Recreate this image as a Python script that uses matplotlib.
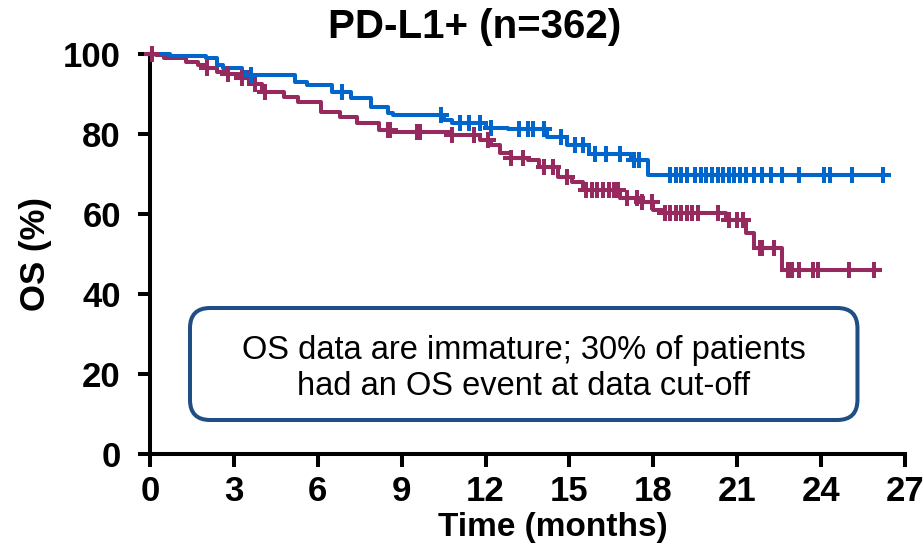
import numpy as np
import matplotlib
matplotlib.use("Agg")
import matplotlib.pyplot as plt
from matplotlib.patches import FancyBboxPatch

plt.rcParams['font.family'] = ['Liberation Sans', 'DejaVu Sans']

# ---- data ----
blue_times = [0, 0.72, 2.0, 2.4, 2.6, 3.3, 3.6, 5.2, 5.6, 6.5, 7.2, 7.9, 8.5, 8.7,
              10.5, 10.8, 12.0, 12.8, 14.2, 14.9, 15.7, 17.2, 17.8]
blue_surv = [100, 99.5, 98.9, 97.3, 96.4, 95.6, 94.8, 93.1, 92.3, 90.6, 88.9, 86.8, 85.2, 84.8,
             83.5, 82.7, 81.5, 81.2, 79.3, 77.3, 75.0, 73.6, 69.8]
blue_end = 26.2
blue_censor = [3.6, 6.85, 10.4, 11.1, 11.4, 11.8, 12.2, 13.2, 13.5, 13.7, 14.1, 14.7, 15.2, 15.5,
               15.9, 16.3, 16.8, 17.3, 17.5, 18.6, 18.8, 19.0, 19.2, 19.5, 19.7, 19.9, 20.1,
               20.3, 20.5, 20.7, 20.9, 21.1, 21.3, 21.6, 21.9, 22.2, 22.6, 23.2, 24.1, 24.3,
               25.1, 26.2]

purple_times = [0, 0.2, 0.5, 1.3, 1.7, 2.0, 2.4, 2.8, 3.2, 3.6, 4.0, 4.8, 5.3, 6.1, 6.8, 7.4,
                8.2, 8.7, 10.8, 11.8, 12.2, 12.5, 12.9, 13.5, 13.9, 14.6, 15.1, 15.5, 16.8,
                17.5, 18.0, 18.3, 20.6, 21.3, 21.6, 22.6]
purple_surv = [100, 99.7, 98.9, 98.1, 97.3, 96.4, 95.6, 95.0, 94.0, 92.5, 90.6, 89.3, 88.0,
               85.6, 84.3, 82.7, 81.0, 80.5, 79.8, 78.5, 77.3, 75.3, 74.0, 73.5, 71.7, 69.2,
               68.0, 66.0, 64.0, 63.0, 61.0, 60.2, 58.5, 55.2, 51.5, 46.0]
purple_end = 26.1
purple_censor = [0.07, 2.05, 2.8, 3.3, 3.55, 3.75, 4.1, 8.5, 8.6, 9.55, 9.66, 10.8, 11.6, 12.1,
                 12.9, 13.35, 14.1, 14.4, 14.9, 15.6, 15.8, 16.0, 16.2, 16.4, 16.6, 16.75,
                 17.05, 17.4, 17.6, 17.95, 18.4, 18.6, 18.8, 19.0, 19.2, 19.4, 19.6, 20.3,
                 20.7, 21.0, 21.2, 21.8, 21.9, 22.3, 22.8, 22.96, 23.2, 23.7, 23.9, 25.0, 25.9]

x_ticks = [0, 3, 6, 9, 12, 15, 18, 21, 24, 27]
y_ticks = [0, 20, 40, 60, 80, 100]

BLUE = '#0066CC'
PURPLE = '#962A5E'
NAVY = '#1F4E85'

fig = plt.figure(figsize=(9.23, 5.5), dpi=100)
ax = fig.add_axes([150 / 923, 96 / 550, 755 / 923, 400 / 550])


def draw_km(times, surv, end, censor, color):
    t = list(times) + [end]
    s = list(surv) + [surv[-1]]
    ax.step(t, s, where='post', color=color, lw=2.9, clip_on=False, zorder=3)
    idx = np.searchsorted(np.array(times), np.array(censor), side='right') - 1
    cy = np.array(surv)[idx]
    ax.plot(censor, cy, ls='none', marker='+', ms=11, mew=2.9, color=color,
            clip_on=False, zorder=4)


draw_km(purple_times, purple_surv, purple_end, purple_censor, PURPLE)
draw_km(blue_times, blue_surv, blue_end, blue_censor, BLUE)

ax.set_xlim(0, 27)
ax.set_ylim(0, 100)
ax.set_xticks(x_ticks)
ax.set_yticks(y_ticks)
for sp in ['top', 'right']:
    ax.spines[sp].set_visible(False)
for sp in ['left', 'bottom']:
    ax.spines[sp].set_linewidth(2.9)
ax.tick_params(axis='both', length=9, width=2.9, labelsize=25)
ax.tick_params(axis='y', pad=12)
ax.tick_params(axis='x', pad=6)
for lab in ax.get_xticklabels() + ax.get_yticklabels():
    lab.set_fontweight('bold')

ax.set_xlabel('Time (months)', fontsize=24, fontweight='bold')
ax.xaxis.set_label_coords(0.534, -0.145)
ax.set_ylabel('OS (%)', fontsize=25, fontweight='bold', labelpad=8)
fig.text(475 / 923, 1 - 27 / 550, 'PD-L1+ (n=362)', fontsize=29, fontweight='bold',
         ha='center', va='center')

# annotation box
bx0, bx1 = 1.43, 25.3
by0, by1 = 8.5, 36.5
box = FancyBboxPatch((bx0, by0), bx1 - bx0, by1 - by0,
                     boxstyle='round,pad=0,rounding_size=0.72',
                     mutation_aspect=7,
                     linewidth=2.9, edgecolor=NAVY, facecolor='white', zorder=5)
ax.add_patch(box)
ax.text((bx0 + bx1) / 2, 21.3,
        'OS data are immature; 30% of patients\nhad an OS event at data cut-off',
        ha='center', va='center', fontsize=23.5, linespacing=1.2, zorder=6)

fig.savefig('out.png', dpi=100)
